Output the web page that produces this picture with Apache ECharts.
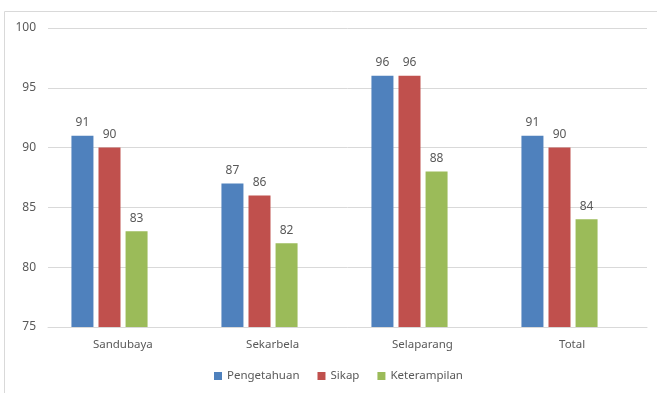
<!DOCTYPE html>
<html>
<head>
<meta charset="utf-8">
<style>
  html, body { margin: 0; padding: 0; background: #fff; }
  #chart { width: 657px; height: 393px; }
</style>
<script src="https://cdn.jsdelivr.net/npm/echarts@6/dist/echarts.min.js"></script>
</head>
<body>
<div id="chart"></div>
<script>
  // data
  var categories = ['Sandubaya', 'Sekarbela', 'Selaparang', 'Total']
  var pengetahuan = [91, 87, 96, 91]
  var sikap = [90, 86, 96, 90]
  var keterampilan = [83, 82, 88, 84]

  var textColor = '#595959'
  var font = 'Noto Sans'

  var label = {
    show: true,
    position: 'top',
    distance: 7,
    color: textColor,
    fontFamily: font,
    fontSize: 12
  }

  function bar(name, data) {
    return {
      name: name,
      type: 'bar',
      xAxisIndex: 1,
      yAxisIndex: 1,
      data: data,
      label: label,
      barWidth: 22,
      barGap: '23%'
    }
  }

  var chart = echarts.init(document.getElementById('chart'))
  chart.setOption({
    animation: false,
    color: ['#4F81BD', '#C0504D', '#9BBB59'],
    textStyle: { fontFamily: font },
    graphic: [{
      type: 'rect',
      shape: { x: 4.5, y: 11.5, width: 700, height: 420 },
      style: { fill: 'none', stroke: '#d9d9d9', lineWidth: 1 },
      silent: true
    }],
    legend: {
      bottom: 6,
      left: 209,
      itemWidth: 8,
      itemHeight: 8,
      itemGap: 18,
      icon: 'rect',
      textStyle: { color: textColor, fontSize: 11.5, fontFamily: font },
      data: ['Pengetahuan', 'Sikap', 'Keterampilan']
    },
    // grid 0: axes, labels and gridlines; grid 1: the bars (the groups sit a bit left of the labels)
    grid: [
      { left: 48, width: 599, top: 28, bottom: 66 },
      { left: 34.5, width: 600, top: 28, bottom: 66 }
    ],
    xAxis: [{
      type: 'category',
      gridIndex: 0,
      data: categories,
      axisTick: { show: false },
      axisLine: { lineStyle: { color: '#d9d9d9' } },
      axisLabel: { color: textColor, fontSize: 11.5, margin: 12, fontFamily: font }
    }, {
      type: 'category',
      gridIndex: 1,
      data: categories,
      show: false
    }],
    yAxis: [{
      type: 'value',
      gridIndex: 0,
      min: 75,
      max: 100,
      interval: 5,
      axisLine: { show: false },
      axisTick: { show: false },
      axisLabel: { color: textColor, fontSize: 12, margin: 12, fontFamily: font },
      splitLine: { lineStyle: { color: '#d9d9d9' } }
    }, {
      type: 'value',
      gridIndex: 1,
      min: 75,
      max: 100,
      interval: 5,
      show: false
    }],
    series: [
      bar('Pengetahuan', pengetahuan),
      bar('Sikap', sikap),
      bar('Keterampilan', keterampilan)
    ]
  })
</script>
</body>
</html>
